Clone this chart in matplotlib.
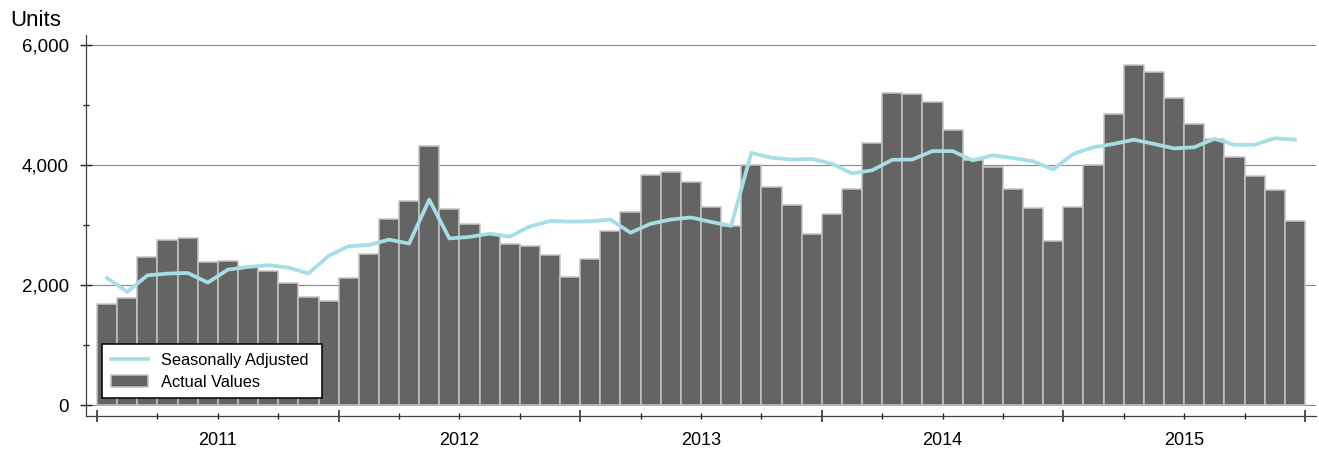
import numpy as np
import matplotlib

matplotlib.use('Agg')
import matplotlib.pyplot as plt
from matplotlib.ticker import FuncFormatter

plt.rcParams['font.family'] = ['Liberation Sans', 'DejaVu Sans']

# Monthly values, Jan 2011 - Dec 2015
years = ['2011', '2012', '2013', '2014', '2015']

actual = [1690, 1790, 2465, 2750, 2780, 2385, 2410, 2300, 2230, 2045, 1800, 1740,
          2120, 2515, 3100, 3400, 4325, 3270, 3025, 2860, 2680, 2655, 2505, 2135,
          2445, 2900, 3225, 3830, 3895, 3720, 3305, 2995, 4005, 3640, 3335, 2860,
          3185, 3600, 4375, 5200, 5190, 5060, 4590, 4080, 3965, 3610, 3295, 2730,
          3310, 4000, 4845, 5675, 5545, 5120, 4690, 4440, 4145, 3815, 3590, 3065]

seas_adj = [2120, 1890, 2165, 2195, 2205, 2045, 2260, 2305, 2335, 2295, 2195, 2490,
            2650, 2670, 2760, 2695, 3425, 2780, 2805, 2860, 2810, 2980, 3070, 3060,
            3065, 3095, 2875, 3025, 3095, 3130, 3055, 2990, 4205, 4125, 4095, 4105,
            4025, 3865, 3915, 4090, 4095, 4235, 4235, 4080, 4165, 4120, 4065, 3930,
            4190, 4300, 4355, 4425, 4355, 4280, 4300, 4440, 4340, 4340, 4450, 4425]

x = np.arange(len(actual)) + 0.5

fig = plt.figure(figsize=(13.19, 4.5), dpi=100)
ax = fig.add_axes([0.0652, 0.0756, 0.9325, 0.8467])

# grid behind everything
for g in [0, 2000, 4000, 6000]:
    ax.axhline(g, color='#888888', lw=0.8, zorder=0)

bars = ax.bar(x, actual, width=1.0, color='#646464', edgecolor='#c4c4c4',
              linewidth=1.1, zorder=1, label='Actual Values')
line, = ax.plot(x, seas_adj, color='#a6dde6', lw=2.7, zorder=3,
                solid_joinstyle='round', label='Seasonally Adjusted')

ax.set_xlim(-0.55, 60.55)
ax.set_ylim(-178, 6170)

for s in ['top', 'right']:
    ax.spines[s].set_visible(False)
for s in ['left', 'bottom']:
    ax.spines[s].set_color('#404040')
    ax.spines[s].set_linewidth(0.9)

# y axis
ax.set_yticks([0, 2000, 4000, 6000])
ax.set_yticks([1000, 3000, 5000], minor=True)
ax.yaxis.set_major_formatter(FuncFormatter(lambda v, p: f'{int(v):,}'))
ax.tick_params(axis='y', which='major', direction='inout', length=8, width=1,
               color='#202020', labelsize=13.5, pad=8.4)
ax.tick_params(axis='y', which='minor', direction='inout', length=4.3, width=1,
               color='#202020')

# x axis: year boundaries + quarter ticks, year names centred
ax.set_xticks(np.arange(0, 61, 12))
ax.set_xticks([q for q in range(3, 60, 3) if q % 12 != 0], minor=True)
ax.set_xticklabels([])
ax.tick_params(axis='x', which='major', direction='inout', length=8.6, width=1.1,
               color='#202020')
ax.tick_params(axis='x', which='minor', direction='inout', length=4.3, width=1,
               color='#202020')
for i, yr in enumerate(years):
    ax.text(i * 12 + 6, -0.041, yr, transform=ax.get_xaxis_transform(),
            ha='center', va='top', fontsize=13)

fig.text(0.0076, 0.978, 'Units', fontsize=16, ha='left', va='top')

leg = ax.legend(handles=[line, bars], loc='lower left', mode='expand',
                bbox_to_anchor=(0.0776, 0.1162, 0.1664, 0.11),
                bbox_transform=fig.transFigure,
                borderaxespad=0, fancybox=False, framealpha=1, edgecolor='black',
                fontsize=11.8, handlelength=2.3, handletextpad=0.75,
                borderpad=0.5, labelspacing=0.42)
leg.get_frame().set_linewidth(1.1)

fig.savefig('out.png', dpi=100)
